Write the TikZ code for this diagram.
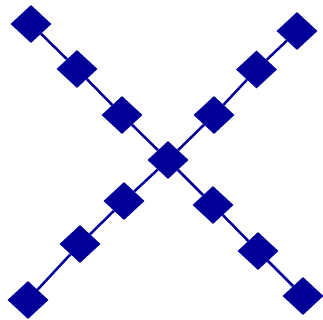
\documentclass[tikz,border=0pt]{standalone}
\usetikzlibrary{shapes.geometric}
\definecolor{navy}{HTML}{000099}

\begin{document}
\begin{tikzpicture}[x=1pt,y=-1pt,
 gem/.style={diamond,fill=navy,inner sep=0pt,minimum width=41pt,minimum height=38pt},
 link/.style={draw=navy,line width=2.5pt}]
\useasboundingbox (0,0) rectangle (323,320);
\node[gem] (c) at (168,160) {};
\node[gem] (nw1) at (122,115) {};
\node[gem] (nw2) at (77,69) {};
\node[gem] (nw3) at (31,24) {};
\node[gem] (se1) at (213,205) {};
\node[gem] (se2) at (258,251) {};
\node[gem] (se3) at (303,296) {};
\node[gem] (ne1) at (214,115) {};
\node[gem] (ne2) at (256.5,69.5) {};
\node[gem] (ne3) at (297,31) {};
\node[gem] (sw1) at (124,201) {};
\node[gem] (sw2) at (80,244) {};
\node[gem] (sw3) at (28,300) {};
\foreach \x/\y in {nw3/nw2,nw2/nw1,nw1/c,c/se1,se1/se2,se2/se3,ne3/ne2,ne2/ne1,ne1/c,c/sw1,sw1/sw2,sw2/sw3} \draw[link] (\x)--(\y);
\end{tikzpicture}
\end{document}
